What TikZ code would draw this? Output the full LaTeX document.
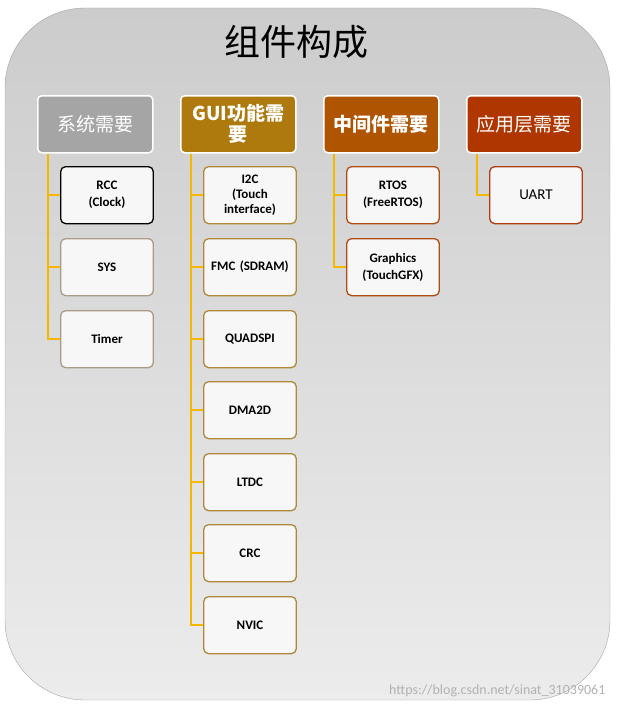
\documentclass[tikz,border=0pt]{standalone}
\usepackage{fontspec}
\setmainfont{Carlito}
\newfontfamily\cjk{Noto Sans CJK SC}
\definecolor{hdrA}{HTML}{A5A5A5}
\definecolor{hdrB}{HTML}{AE7A0E}
\definecolor{hdrC}{HTML}{AF5400}
\definecolor{hdrD}{HTML}{B03600}
\definecolor{lineY}{HTML}{F5B800}
\definecolor{boxA}{HTML}{A89C88}
\definecolor{boxB}{HTML}{B08838}
\definecolor{boxC}{HTML}{B04E12}
\definecolor{boxD}{HTML}{B03C10}
\begin{document}
\begin{tikzpicture}[
        x=1pt, y=-1pt,
        header/.style={draw=white, line width=1.5pt, rounded corners=4pt, minimum width=115pt,
            minimum height=57pt, text width=100pt, align=center, text=white, anchor=north west,
            font=\cjk\fontsize{19}{21}\selectfont},
        item/.style={draw, line width=1.3pt, rounded corners=5pt, fill=white!97!black, minimum width=92pt,
            minimum height=57pt, text width=86pt, align=center, anchor=north west,
            font=\bfseries\fontsize{13}{17}\selectfont},
        link/.style={draw=lineY, line width=1.5pt},
    ]
    \useasboundingbox (0,0) rectangle (617,709);
    % background panel
    \draw[draw=gray!70, top color=gray!40, bottom color=gray!15, rounded corners=80pt]
        (5,8) rectangle (610,700);
    \node[font=\cjk\fontsize{36}{38}\selectfont] (title) at (296,42) {组件构成};
    % headers
    \node[header, fill=hdrA] (sys) at (37,95) {系统需要};
    \node[header, fill=hdrB, font=\cjk\bfseries\fontsize{19}{21}\selectfont] (gui) at (180,95) {GUI功能需\\要};
    \node[header, fill=hdrC, font=\cjk\bfseries\fontsize{19}{21}\selectfont] (mid) at (323,95) {中间件需要};
    \node[header, fill=hdrD] (app) at (466,95) {应用层需要};
    % column 1
    \node[item, draw=black] (rcc) at (60,166) {RCC\\(Clock)};
    \node[item, draw=boxA] (sysb) at (60,238) {SYS};
    \node[item, draw=boxA] (timer) at (60,310) {Timer};
    % column 2
    \node[item, draw=boxB, font=\bfseries\fontsize{13}{15}\selectfont] (i2c) at (203,166) {I2C\\(Touch\\interface)};
    \node[item, draw=boxB] (fmc) at (203,238) {FMC (SDRAM)};
    \node[item, draw=boxB] (qspi) at (203,310) {QUADSPI};
    \node[item, draw=boxB] (dma) at (203,381) {DMA2D};
    \node[item, draw=boxB] (ltdc) at (203,453) {LTDC};
    \node[item, draw=boxB] (crc) at (203,524) {CRC};
    \node[item, draw=boxB] (nvic) at (203,596) {NVIC};
    % column 3
    \node[item, draw=boxC] (rtos) at (346,166) {RTOS\\(FreeRTOS)};
    \node[item, draw=boxC] (gfx) at (346,238) {Graphics\\(TouchGFX)};
    % column 4
    \node[item, draw=boxD, font=\fontsize{15}{17}\selectfont] (uart) at (489,166) {UART};
    % connectors
    \foreach \h/\list in {sys/{rcc,sysb,timer}, gui/{i2c,fmc,qspi,dma,ltdc,crc,nvic},
                         mid/{rtos,gfx}, app/{uart}} {
        \foreach \c in \list {
            \draw[link] ([xshift=11pt]\h.south west) |- (\c.west);
        }
    }
    \node[text=gray!60, font=\fontsize{14}{16}\selectfont, anchor=south east] (mark) at (609,700)
        {https://blog.csdn.net/sinat\_31039061};
\end{tikzpicture}
\end{document}
